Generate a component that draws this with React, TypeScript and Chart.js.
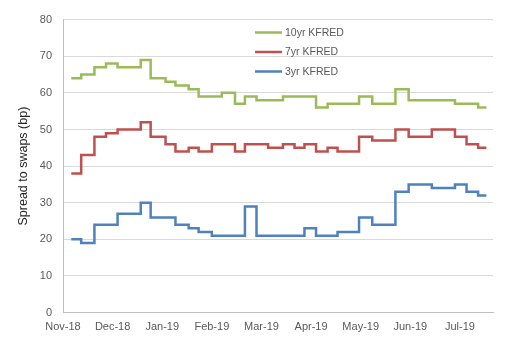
import React, { useEffect, useRef } from 'react';
import { Chart, registerables } from 'chart.js';

Chart.register(...registerables);

// Day offsets (from the Nov-18 tick) at which the spread changes level
const changeDays = [5, 11, 19, 26, 33, 47, 53, 62, 68, 76, 82, 90, 96, 104, 110, 117, 124, 133, 140, 146, 153, 160, 166, 179, 187, 201, 209, 223, 237, 244, 251, 256];

const tenYear = [64, 65, 67, 68, 67, 69, 64, 63, 62, 61, 59, 59, 60, 57, 59, 58, 58, 59, 59, 59, 56, 57, 57, 59, 57, 61, 58, 58, 57, 57, 56, 56];
const sevenYear = [38, 43, 48, 49, 50, 52, 48, 46, 44, 45, 44, 46, 46, 44, 46, 46, 45, 46, 45, 46, 44, 45, 44, 48, 47, 50, 48, 50, 48, 46, 45, 45];
const threeYear = [20, 19, 24, 24, 27, 30, 26, 26, 24, 23, 22, 21, 21, 21, 29, 21, 21, 21, 21, 23, 21, 21, 22, 26, 24, 33, 35, 34, 35, 33, 32, 32];

const seriesNames = ['10yr KFRED', '7yr KFRED', '3yr KFRED'];
const seriesColors = ['#9BBB59', '#C0504D', '#4F81BD'];

const tickLabels = ['Nov-18', 'Dec-18', 'Jan-19', 'Feb-19', 'Mar-19', 'Apr-19', 'May-19', 'Jun-19', 'Jul-19'];
const tickStepDays = 30;
const axisMaxDays = 260;

const yTicks = [0, 10, 20, 30, 40, 50, 60, 70, 80];
const yTitle = 'Spread to swaps (bp)';

const FONT = '"Liberation Sans", Arial, sans-serif';

const legendPlugin = {
  id: 'stackedLegend',
  afterDatasetsDraw(chart: any) {
    const ctx = chart.ctx;
    const x0 = 255;
    const x1 = 282;
    const startY = 32.5;
    const gap = 19.5;
    ctx.save();
    chart.data.datasets.forEach((ds: any, i: number) => {
      const y = startY + i * gap;
      ctx.strokeStyle = ds.borderColor;
      ctx.lineWidth = 2.5;
      ctx.beginPath();
      ctx.moveTo(x0, y);
      ctx.lineTo(x1, y);
      ctx.stroke();
      ctx.fillStyle = '#595959';
      ctx.font = `10.5px ${FONT}`;
      ctx.textBaseline = 'middle';
      ctx.textAlign = 'left';
      ctx.fillText(ds.label, x1 + 3, y + 0.5);
    });
    ctx.restore();
  },
};

export default function App() {
  const canvasRef = useRef<HTMLCanvasElement | null>(null);

  useEffect(() => {
    document.body.style.margin = '0';
    const canvas = canvasRef.current;
    if (!canvas) return;
    const seriesValues = [tenYear, sevenYear, threeYear];
    const chart = new Chart(canvas, {
      type: 'line',
      data: {
        datasets: seriesValues.map((vals, i) => ({
          label: seriesNames[i],
          data: changeDays.map((d, j) => ({ x: d, y: vals[j] })),
          borderColor: seriesColors[i],
          backgroundColor: seriesColors[i],
          borderWidth: 2.5,
          pointRadius: 0,
          pointHoverRadius: 0,
          stepped: 'before',
          tension: 0,
          fill: false,
        })),
      },
      options: {
        responsive: false,
        animation: false,
        devicePixelRatio: 1,
        events: [],
        layout: { padding: { top: 19.6, right: 17, bottom: 0, left: 0 } },
        plugins: {
          legend: { display: false },
          tooltip: { enabled: false },
        },
        scales: {
          x: {
            type: 'linear',
            min: 0,
            max: axisMaxDays,
            afterFit: (scale: any) => {
              scale.height = 38.4;
            },
            grid: { display: false, drawTicks: false },
            border: { display: true, color: '#BFBFBF', width: 1 },
            ticks: {
              stepSize: tickStepDays,
              includeBounds: false,
              autoSkip: false,
              maxRotation: 0,
              padding: 8,
              color: '#595959',
              font: { family: FONT, size: 11 },
              callback: (v: any) => {
                const idx = Math.round(Number(v) / tickStepDays);
                return Number(v) % tickStepDays === 0 && idx < tickLabels.length ? tickLabels[idx] : '';
              },
            },
          },
          y: {
            min: yTicks[0],
            max: yTicks[yTicks.length - 1],
            afterFit: (scale: any) => {
              scale.width = 63;
            },
            afterBuildTicks: (scale: any) => {
              scale.ticks = yTicks.map((v) => ({ value: v }));
            },
            grid: { color: '#D9D9D9', lineWidth: 1, drawTicks: false },
            border: { display: true, color: '#BFBFBF', width: 1 },
            ticks: {
              padding: 11,
              color: '#595959',
              font: { family: FONT, size: 11 },
            },
            title: {
              display: true,
              text: yTitle,
              color: '#262626',
              font: { family: FONT, size: 12.5 },
              padding: { top: 15.8, bottom: 0 },
            },
          },
        },
      },
      plugins: [legendPlugin],
    });
    return () => chart.destroy();
  }, []);

  return (
    <div style={{ width: 510, height: 351 }}>
      <canvas ref={canvasRef} width={510} height={351} style={{ display: 'block' }} />
    </div>
  );
}
